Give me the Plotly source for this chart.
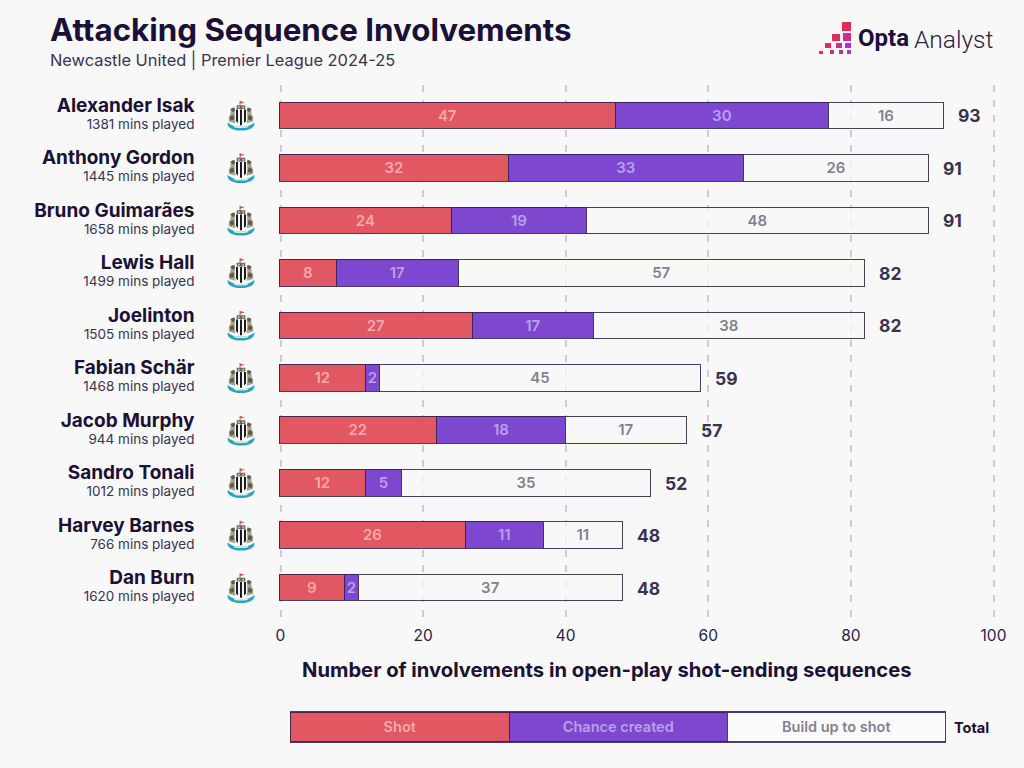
import base64
import plotly.graph_objects as go

players = ["Alexander Isak", "Anthony Gordon", "Bruno Guimarães", "Lewis Hall", "Joelinton",
           "Fabian Schär", "Jacob Murphy", "Sandro Tonali", "Harvey Barnes", "Dan Burn"]
minutes = [1381, 1445, 1658, 1499, 1505, 1468, 944, 1012, 766, 1620]
shot = [47, 32, 24, 8, 27, 12, 22, 12, 26, 9]
chance = [30, 33, 19, 17, 17, 2, 18, 5, 11, 2]
build = [16, 26, 48, 57, 38, 45, 17, 35, 11, 37]
totals = [93, 91, 91, 82, 82, 59, 57, 52, 48, 48]
x_ticks = [0, 20, 40, 60, 80, 100]
legend_names = ["Shot", "Chance created", "Build up to shot"]
legend_sizes = [1, 1, 1]

BG = "#f8f8f8"
INK = "#1b1035"
TOTAL_INK = "#3a3350"
EDGE = "rgba(44,31,69,0.85)"
FONT = "Inter"
RED, PURPLE, WHITE = "rgba(224,80,92,0.96)", "rgba(122,68,206,0.98)", "rgba(248,248,248,0.75)"
RED_T, PURPLE_T, WHITE_T = "#f5a9ae", "#b9a0ea", "#85808f"
W, H = 1024, 768


def uri(svg):
    return "data:image/svg+xml;base64," + base64.b64encode(svg.encode()).decode()


crest = uri("""<svg xmlns="http://www.w3.org/2000/svg" viewBox="0 0 30 32">
<path d="M14 0v6" stroke="#555" stroke-width="0.8"/><path d="M14 0.500l5 1.300-5 1.700z" fill="#d9534f"/>
<path d="M10.500 5h9v4h-9z" fill="#6b6656"/><path d="M12 6h1.500v2h-1.500zM16.500 6h1.500v2h-1.500z" fill="#d8d4c4"/>
<path d="M7 7.500c-2 0-3.500 1.500-3 3.500.5 2-.5 4-1.500 6-.5 1.500-.5 3 0 5l6.500 2 1-14z" fill="#a8a38e"/>
<path d="M23 7.500c2 0 3.500 1.500 3 3.500-.5 2 .5 4 1.500 6 .5 1.500.5 3 0 5l-6.500 2-1-14z" fill="#a8a38e"/>
<path d="M4 9l4-2 1 4-3 1zM3 17l4-2 1 5-4 1z" fill="#5f5b4c"/><path d="M26 9l-4-2-1 4 3 1zM27 17l-4-2-1 5 4 1z" fill="#5f5b4c"/>
<path d="M8.500 9.500h13v10c0 3-3 5-6.500 6.500-3.500-1.500-6.500-3.500-6.500-6.500z" fill="#f6f6f6"/>
<path d="M9.800 9.500h2v14l-2-2zM14 9.500h2v16.500h-2zM18.200 9.500h2v12l-2 2z" fill="#111114"/>
<path d="M1 23c3 3 8 4.500 14 4.500s11-1.500 14-4.500c1 4-3 8.500-14 8.500s-15-4.500-14-8.500z" fill="#26a5c0"/>
<path d="M7 26.500c5 1.500 11 1.500 16 0l-1 1.500c-4 1.300-10 1.300-14 0z" fill="#e6efd4"/>
</svg>""")

logo = uri("""<svg xmlns="http://www.w3.org/2000/svg" viewBox="0 0 32 32">
<rect x="23" y="0" width="9" height="9" fill="#e8284f"/>
<rect x="13" y="12" width="8" height="7" fill="#e52b55"/><rect x="24" y="11" width="8" height="8" fill="#c92d92"/>
<rect x="6" y="21" width="6" height="5" fill="#e52b55"/><rect x="17" y="21" width="6" height="5" fill="#c92d92"/><rect x="26" y="21" width="6" height="5" fill="#a833c4"/>
<rect x="0" y="29" width="4" height="3" fill="#e52b55"/><rect x="11" y="28" width="4" height="4" fill="#c92d92"/><rect x="20" y="28" width="4" height="4" fill="#b030b8"/><rect x="28" y="28" width="4" height="4" fill="#a833c4"/>
</svg>""")

fig = go.Figure()
for name, vals, fill, tc in [("Shot", shot, RED, RED_T),
                             ("Chance created", chance, PURPLE, PURPLE_T),
                             ("Build up to shot", build, WHITE, WHITE_T)]:
    fig.add_trace(go.Bar(
        y=players, x=vals, orientation="h", name=name, width=0.505, text=vals,
        textposition="inside", insidetextanchor="middle", constraintext="none", textangle=0,
        textfont=dict(family=FONT, size=15, color=tc, weight=600),
        marker=dict(color=fill, line=dict(color=EDGE, width=1.4)),
        showlegend=False, hoverinfo="x+y+name"))

for size, name, fill, tc in zip(legend_sizes, legend_names, [RED, PURPLE, "rgba(250,250,250,1)"],
                                [RED_T, PURPLE_T, WHITE_T]):
    fig.add_trace(go.Bar(
        y=["Key"], x=[size], orientation="h", xaxis="x2", yaxis="y2", text=[name], width=1,
        textposition="inside", insidetextanchor="middle", constraintext="none", textangle=0,
        textfont=dict(family=FONT, size=14.5, color=tc, weight=600),
        marker=dict(color=fill, line=dict(color=EDGE, width=1.1)),
        showlegend=False, hoverinfo="skip"))

annotations = [
    dict(text="<b>Attacking Sequence Involvements</b>", x=48/W, y=1-29.5/H, xref="paper", yref="paper",
         xanchor="left", yanchor="middle", showarrow=False, font=dict(family=FONT, size=31.3, color=INK)),
    dict(text="Newcastle United | Premier League 2024-25", x=48/W, y=1-59.5/H, xref="paper", yref="paper",
         xanchor="left", yanchor="middle", showarrow=False, font=dict(family=FONT, size=16.4, color="#3a3350")),
    dict(text="<b>Opta</b>", x=856/W, y=1-38/H, xref="paper", yref="paper", xanchor="left", yanchor="middle",
         showarrow=False, font=dict(family="Roboto", size=24, color=INK)),
    dict(text="Analyst", x=995/W, y=1-39/H, xref="paper", yref="paper", xanchor="right", yanchor="middle",
         showarrow=False, font=dict(family="Roboto", size=24.5, color="#2b2145", weight=300)),
    dict(text="<b>Number of involvements in open-play shot-ending sequences</b>", x=606/W, y=1-669/H,
         xref="paper", yref="paper", xanchor="center", yanchor="middle", showarrow=False,
         font=dict(family=FONT, size=20.2, color=INK)),
    dict(text="<b>Total</b>", x=952/W, y=1-727/H, xref="paper", yref="paper", xanchor="left", yanchor="middle",
         showarrow=False, font=dict(family=FONT, size=14.5, color=INK)),
]
for p, t in zip(players, totals):
    annotations.append(dict(text=f"<b>{t}</b>", x=t, y=p, xref="x", yref="y", xanchor="left", yanchor="middle",
                            xshift=12, showarrow=False, font=dict(family=FONT, size=17.5, color=TOTAL_INK)))

images = [dict(source=logo, xref="paper", yref="paper", x=819/W, y=1-22/H, sizex=32/W, sizey=32/H,
               xanchor="left", yanchor="top", sizing="stretch", layer="above")]
for i in range(len(players)):
    images.append(dict(source=crest, xref="paper", yref="y", x=241/W, y=i, sizex=30/W, sizey=0.58,
                       xanchor="center", yanchor="middle", sizing="contain", layer="above"))

ticktext = [f"<b style='font-size:19px'>{p}</b><br><span style='font-size:13.5px;color:#3a3350'>{m} mins played</span>"
            for p, m in zip(players, minutes)]

fig.update_layout(
    width=W, height=H, autosize=False, barmode="stack", bargap=0,
    paper_bgcolor=BG, plot_bgcolor=BG, margin=dict(l=0, r=0, t=0, b=0), showlegend=False,
    font=dict(family=FONT, color=INK), annotations=annotations, images=images,
    xaxis=dict(domain=[279.07/W, 994.93/W], range=[-0.2, 100.2], tickvals=x_ticks, showgrid=True, griddash="7px,8px",
               gridcolor="#cdcdcd", gridwidth=2, zeroline=False, showline=False, anchor="y", automargin=False,
               ticks="outside", ticklen=1, tickcolor="rgba(0,0,0,0)", tickfont=dict(family=FONT, size=15.5, color="#2b2145")),
    yaxis=dict(domain=[1-620/H, 1-85/H], range=[9.605, -0.586], categoryorder="array", categoryarray=players,
               tickmode="array", tickvals=players, ticktext=ticktext, ticks="outside", ticklen=81, automargin=False,
               tickcolor="rgba(0,0,0,0)", tickfont=dict(family=FONT, size=13, color=INK), showgrid=False,
               zeroline=False, showline=False, anchor="x"),
    xaxis2=dict(domain=[288.8/W, 948.2/W], range=[-0.01, 3.01], visible=False, anchor="y2", automargin=False),
    yaxis2=dict(domain=[1-743.5/H, 1-710.5/H], range=[-0.55, 0.55], visible=False, anchor="x2", automargin=False),
)
fix_page = ("document.documentElement.style.background='%s';"
            "document.body.style.margin='0';document.body.style.overflow='hidden';"
            "Plotly.relayout(document.getElementsByClassName('plotly-graph-div')[0],{width:%d,height:%d});" % (BG, W, H))
fig.write_html("out.html", post_script=fix_page, config=dict(displayModeBar=False))
